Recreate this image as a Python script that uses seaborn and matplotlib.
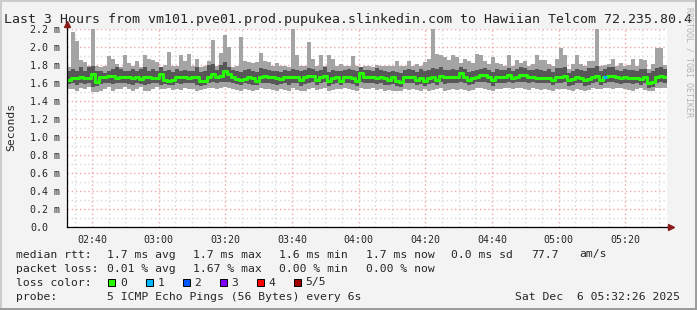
import numpy as np
import pandas as pd
import matplotlib
matplotlib.use("Agg")
import matplotlib.pyplot as plt
import seaborn as sns
from matplotlib.lines import Line2D
from matplotlib.patches import Rectangle

# ---------------- data (ms) ----------------
rtt_max = [1.78, 2.17, 2.07, 1.86, 1.84, 1.79, 2.30, 1.79, 1.78, 1.79, 1.90, 1.87, 1.82, 1.78, 1.91, 1.83, 1.79, 1.85, 1.78, 1.91, 1.87, 1.86, 1.84, 1.78, 1.80,
           1.95, 1.79, 1.79, 1.91, 1.85, 1.93, 1.79, 1.87, 1.78, 1.79, 1.85, 2.08, 1.79, 1.94, 2.14, 2.00, 1.78, 1.79, 2.12, 1.85, 1.84, 1.83, 1.84, 1.94, 1.85,
           1.84, 1.79, 1.83, 1.79, 1.79, 1.78, 2.30, 1.91, 1.79, 1.79, 2.06, 1.87, 1.79, 1.91, 1.79, 1.92, 1.87, 1.79, 1.81, 1.79, 1.79, 1.90, 1.79, 1.78, 1.79,
           1.79, 1.78, 1.80, 1.79, 1.79, 1.79, 1.79, 1.85, 1.79, 1.79, 1.85, 1.79, 1.82, 1.79, 1.84, 1.87, 2.30, 1.93, 1.92, 1.89, 1.86, 1.91, 1.89, 1.83, 1.87,
           1.85, 1.83, 1.93, 1.91, 1.85, 1.82, 1.89, 1.83, 1.82, 1.79, 1.91, 1.79, 1.86, 1.83, 1.85, 1.79, 1.81, 1.91, 1.86, 1.86, 1.82, 1.79, 1.87, 1.99, 1.91,
           1.76, 1.82, 1.91, 1.82, 1.79, 1.85, 1.85, 2.30, 1.79, 1.80, 1.82, 1.87, 1.79, 1.83, 1.79, 1.80, 1.87, 1.79, 1.87, 1.86, 1.76, 1.82, 1.99, 1.99, 1.80]

rtt_p4 = [1.74, 1.76, 1.74, 1.78, 1.74, 1.78, 1.79, 1.74, 1.74, 1.72, 1.74, 1.76, 1.78, 1.76, 1.74, 1.74, 1.76, 1.74, 1.76, 1.78, 1.74, 1.76, 1.74, 1.785, 1.74,
          1.75, 1.73, 1.76, 1.74, 1.75, 1.74, 1.74, 1.78, 1.73, 1.74, 1.80, 1.82, 1.75, 1.80, 1.84, 1.78, 1.75, 1.74, 1.73, 1.75, 1.76, 1.74, 1.73, 1.77, 1.76,
          1.75, 1.74, 1.74, 1.73, 1.75, 1.74, 1.76, 1.75, 1.74, 1.75, 1.77, 1.76, 1.74, 1.75, 1.78, 1.73, 1.75, 1.74, 1.74, 1.75, 1.76, 1.75, 1.74, 1.78, 1.75,
          1.75, 1.74, 1.77, 1.75, 1.74, 1.73, 1.74, 1.73, 1.72, 1.75, 1.76, 1.75, 1.73, 1.76, 1.74, 1.75, 1.77, 1.76, 1.78, 1.75, 1.75, 1.76, 1.75, 1.78, 1.76,
          1.73, 1.74, 1.75, 1.76, 1.77, 1.75, 1.73, 1.76, 1.75, 1.75, 1.77, 1.74, 1.76, 1.78, 1.77, 1.75, 1.75, 1.76, 1.75, 1.74, 1.76, 1.73, 1.77, 1.77, 1.78,
          1.72, 1.74, 1.76, 1.75, 1.74, 1.77, 1.77, 1.79, 1.74, 1.76, 1.78, 1.78, 1.75, 1.74, 1.76, 1.75, 1.75, 1.74, 1.76, 1.76, 1.72, 1.74, 1.77, 1.78, 1.76]

rtt_median = [1.635, 1.66, 1.66, 1.665, 1.655, 1.655, 1.70, 1.62, 1.665, 1.665, 1.68, 1.68, 1.655, 1.665, 1.665, 1.665, 1.655, 1.675, 1.645, 1.675, 1.675, 1.655, 1.655, 1.70, 1.635,
              1.63, 1.635, 1.67, 1.665, 1.67, 1.66, 1.67, 1.665, 1.63, 1.63, 1.67, 1.70, 1.665, 1.685, 1.74, 1.70, 1.665, 1.65, 1.635, 1.65, 1.665, 1.655, 1.63, 1.67, 1.685,
              1.67, 1.665, 1.66, 1.645, 1.665, 1.665, 1.67, 1.665, 1.635, 1.67, 1.68, 1.68, 1.635, 1.665, 1.68, 1.63, 1.66, 1.67, 1.63, 1.665, 1.67, 1.66, 1.63, 1.71, 1.665,
              1.67, 1.665, 1.66, 1.665, 1.655, 1.635, 1.665, 1.63, 1.61, 1.665, 1.67, 1.67, 1.635, 1.66, 1.625, 1.66, 1.67, 1.635, 1.685, 1.67, 1.67, 1.67, 1.67, 1.71, 1.665,
              1.635, 1.66, 1.67, 1.69, 1.69, 1.665, 1.635, 1.67, 1.67, 1.665, 1.69, 1.66, 1.67, 1.69, 1.69, 1.665, 1.67, 1.66, 1.66, 1.66, 1.66, 1.635, 1.67, 1.67, 1.685,
              1.635, 1.645, 1.67, 1.66, 1.635, 1.645, 1.67, 1.685, 1.635, 1.665, 1.68, 1.685, 1.665, 1.655, 1.67, 1.66, 1.66, 1.66, 1.645, 1.67, 1.60, 1.61, 1.665, 1.685, 1.67]

rtt_p2 = [1.59, 1.60, 1.58, 1.60, 1.59, 1.60, 1.56, 1.57, 1.59, 1.60, 1.60, 1.59, 1.60, 1.60, 1.60, 1.59, 1.58, 1.60, 1.59, 1.58, 1.59, 1.60, 1.60, 1.58, 1.59,
          1.58, 1.58, 1.60, 1.59, 1.60, 1.60, 1.60, 1.58, 1.57, 1.58, 1.60, 1.61, 1.60, 1.61, 1.62, 1.61, 1.60, 1.59, 1.58, 1.60, 1.59, 1.58, 1.58, 1.60, 1.60,
          1.60, 1.59, 1.58, 1.59, 1.60, 1.58, 1.60, 1.60, 1.57, 1.59, 1.60, 1.61, 1.58, 1.60, 1.61, 1.57, 1.59, 1.60, 1.58, 1.60, 1.60, 1.59, 1.57, 1.61, 1.60,
          1.60, 1.60, 1.59, 1.60, 1.58, 1.58, 1.59, 1.57, 1.56, 1.60, 1.60, 1.60, 1.58, 1.59, 1.57, 1.59, 1.60, 1.58, 1.61, 1.59, 1.60, 1.60, 1.60, 1.62, 1.60,
          1.58, 1.59, 1.61, 1.62, 1.61, 1.60, 1.57, 1.60, 1.60, 1.60, 1.62, 1.60, 1.61, 1.62, 1.62, 1.60, 1.61, 1.60, 1.60, 1.60, 1.60, 1.58, 1.60, 1.60, 1.61,
          1.57, 1.58, 1.60, 1.60, 1.57, 1.58, 1.60, 1.61, 1.58, 1.60, 1.61, 1.61, 1.60, 1.59, 1.60, 1.60, 1.59, 1.60, 1.58, 1.60, 1.55, 1.56, 1.60, 1.61, 1.60]

rtt_min = [1.54, 1.54, 1.52, 1.55, 1.54, 1.555, 1.50, 1.50, 1.52, 1.54, 1.555, 1.52, 1.54, 1.54, 1.555, 1.54, 1.52, 1.54, 1.555, 1.52, 1.52, 1.54, 1.555, 1.54, 1.54,
           1.55, 1.53, 1.54, 1.53, 1.55, 1.54, 1.54, 1.52, 1.53, 1.54, 1.55, 1.55, 1.54, 1.55, 1.56, 1.55, 1.54, 1.53, 1.52, 1.54, 1.53, 1.52, 1.53, 1.55, 1.54,
           1.54, 1.53, 1.52, 1.54, 1.53, 1.52, 1.55, 1.53, 1.51, 1.52, 1.54, 1.55, 1.53, 1.54, 1.55, 1.52, 1.53, 1.54, 1.54, 1.55, 1.54, 1.53, 1.52, 1.55, 1.54,
           1.54, 1.55, 1.53, 1.54, 1.52, 1.53, 1.52, 1.51, 1.51, 1.54, 1.53, 1.54, 1.53, 1.52, 1.54, 1.51, 1.53, 1.54, 1.55, 1.52, 1.53, 1.54, 1.53, 1.54, 1.53,
           1.52, 1.53, 1.55, 1.55, 1.54, 1.53, 1.52, 1.54, 1.54, 1.55, 1.55, 1.54, 1.55, 1.55, 1.54, 1.53, 1.55, 1.54, 1.53, 1.54, 1.53, 1.51, 1.54, 1.54, 1.54,
           1.53, 1.52, 1.54, 1.53, 1.52, 1.53, 1.55, 1.54, 1.54, 1.55, 1.55, 1.54, 1.55, 1.55, 1.54, 1.53, 1.52, 1.54, 1.55, 1.53, 1.51, 1.52, 1.55, 1.55, 1.55]

# lost pings per step (0 everywhere except one step with 1 lost)
loss = [0] * 134 + [1] + [0] * 15

start_minute = 152.5          # 02:32:30
step_minutes = 1.2            # 72 s consolidation step
x_tick_minutes = [160, 180, 200, 220, 240, 260, 280, 300, 320]
x_tick_labels = ["02:40", "03:00", "03:20", "03:40", "04:00", "04:20", "04:40", "05:00", "05:20"]
y_ticks = [0.0, 0.2, 0.4, 0.6, 0.8, 1.0, 1.2, 1.4, 1.6, 1.8, 2.0, 2.2]
y_tick_labels = ["0.0", "0.2 m", "0.4 m", "0.6 m", "0.8 m", "1.0 m", "1.2 m",
                 "1.4 m", "1.6 m", "1.8 m", "2.0 m", "2.2 m"]

loss_labels = ["0", "1", "2", "3", "4", "5/5"]
loss_colors = ["#26ff00", "#00b8ff", "#0059ff", "#7e00ff", "#ff0000", "#a10000"]

title = "Last 3 Hours from vm101.pve01.prod.pupukea.slinkedin.com to Hawiian Telcom 72.235.80.4"
stats_rtt = ["median rtt:", "1.7 ms avg", "1.7 ms max", "1.6 ms min", "1.7 ms now", "0.0 ms sd", "77.7", "am/s"]
stats_loss = ["packet loss:", "0.01 % avg", "1.67 % max", "0.00 % min", "0.00 % now"]
probe_text = ["probe:", "5 ICMP Echo Pings (56 Bytes) every 6s", "Sat Dec  6 05:32:26 2025"]

# ---------------- figure ----------------
sns.set_style("white")
MONO = ["DejaVu Sans Mono"]
plt.rcParams["font.family"] = MONO

W, H = 697, 310
fig = plt.figure(figsize=(W / 100, H / 100), dpi=100)
fig.patch.set_facecolor("#f3f3f3")

def fx(x):
    return x / W

def fy(y):
    return 1 - y / H

ax_l, ax_r, ax_t, ax_b = 67, 667, 29.3, 227.3
ax = fig.add_axes([fx(ax_l), fy(ax_b), (ax_r - ax_l) / W, (ax_b - ax_t) / H])
ax.set_facecolor("white")

n = len(rtt_median)
edges = start_minute + step_minutes * np.arange(n + 1)

def ext(a):
    a = list(a)
    return np.array(a + [a[-1]])

df = pd.DataFrame({"t": edges, "median": ext(rtt_median)})

ax.fill_between(edges, ext(rtt_min), ext(rtt_max), step="post",
                color="#a4a4a4", lw=0, zorder=1)
ax.fill_between(edges, ext(rtt_p2), ext(rtt_p4), step="post",
                color="#575757", lw=0, zorder=1.2)

sns.lineplot(data=df, x="t", y="median", drawstyle="steps-post",
             color=loss_colors[0], linewidth=2.2, sort=False,
             estimator=None, ax=ax, zorder=3)
for k, l in enumerate(loss):
    if l > 0:
        ax.hlines(rtt_median[k], edges[k], edges[k + 1],
                  color=loss_colors[l], lw=2.2, zorder=4)

ax.set_xlim(edges[0], edges[-1])
ax.set_ylim(0, 2.2)
ax.set_xlabel("")
ax.set_ylabel("")

# grid: majors every 20 min / 0.2, minors every 5 min / 0.1 (not on majors)
ax.set_xticks(x_tick_minutes)
ax.set_xticks([m for m in range(155, 335, 5) if m % 20 != 0], minor=True)
ax.set_yticks(y_ticks)
ax.set_yticks(np.arange(0.1, 2.2, 0.2), minor=True)
ax.grid(which="minor", color="#d9d9d9", linestyle=(0, (1, 2)), linewidth=1.0, snap=True)
ax.grid(which="major", color="#f2a6a6", linestyle=(0, (1, 2)), linewidth=1.0, snap=True)
ax.set_axisbelow(True)

ax.set_xticklabels(x_tick_labels, fontsize=7.2, family=MONO)
ax.set_yticklabels(y_tick_labels, fontsize=7.2, family=MONO)
for lab in ax.get_yticklabels():
    lab.set_horizontalalignment("left")
ax.tick_params(axis="y", which="both", length=0, pad=26.6)
ax.tick_params(axis="x", which="major", length=2, width=0.7, pad=3.2, color="black")
ax.tick_params(axis="x", which="minor", length=0)

for s in ["top", "right"]:
    ax.spines[s].set_visible(False)
for s in ["left", "bottom"]:
    ax.spines[s].set_color("black")
    ax.spines[s].set_linewidth(0.9)
    ax.spines[s].set_zorder(5)

# axis arrows
fig.add_artist(Line2D([fx(ax_l), fx(ax_l)], [fy(ax_t), fy(25)], color="black", lw=0.9))
fig.add_artist(Line2D([fx(ax_r), fx(670)], [fy(ax_b), fy(ax_b)], color="black", lw=0.9))
fig.add_artist(Line2D([fx(ax_l)], [fy(24)], marker="^", color="#8b1a1a", markersize=4.5, lw=0))
fig.add_artist(Line2D([fx(671)], [fy(ax_b)], marker=">", color="#8b1a1a", markersize=4.5, lw=0))

# labels
fig.text(fx(4), fy(23.5), title, fontsize=9.5, family=MONO, ha="left", va="baseline")
fig.text(fx(11), fy(127), "Seconds", fontsize=8.2, family=MONO, rotation=90,
         ha="center", va="center")
fig.text(fx(689), fy(62), "RRDTOOL / TOBI OETIKER", fontsize=6.0, family=MONO,
         rotation=270, ha="center", va="center", color="#b4b4b4")

lx1 = [16, 107, 193, 279, 366, 451, 531, 579]
for x, s in zip(lx1, stats_rtt):
    fig.text(fx(x), fy(257.5), s, fontsize=8.2, family=MONO, ha="left", va="baseline")
for x, s in zip(lx1, stats_loss):
    fig.text(fx(x), fy(271.5), s, fontsize=8.2, family=MONO, ha="left", va="baseline")

fig.text(fx(16), fy(285.5), "loss color:", fontsize=8.2, family=MONO, ha="left", va="baseline")
box_x = [108, 145.5, 182.5, 219.5, 256.5, 293.5]
for bx, lab, col in zip(box_x, loss_labels, loss_colors):
    fig.add_artist(Rectangle((fx(bx), fy(285.5)), 7 / W, 7 / H, transform=fig.transFigure,
                             facecolor=col, edgecolor="black", lw=0.7))
    fig.text(fx(bx + 12), fy(285.5), lab, fontsize=8.2, family=MONO, ha="left", va="baseline")

fig.text(fx(16), fy(299.5), probe_text[0], fontsize=8.2, family=MONO, ha="left", va="baseline")
fig.text(fx(107), fy(299.5), probe_text[1], fontsize=8.2, family=MONO, ha="left", va="baseline")
fig.text(fx(680), fy(299.5), probe_text[2], fontsize=8.2, family=MONO, ha="right", va="baseline")

# frame shading
fig.add_artist(Line2D([0, 1], [fy(0.5), fy(0.5)], color="#cbcbcb", lw=1.4))
fig.add_artist(Line2D([fx(0.5), fx(0.5)], [0, 1], color="#cbcbcb", lw=1.4))
fig.add_artist(Line2D([0, 1], [fy(309), fy(309)], color="#9a9a9a", lw=1.4))
fig.add_artist(Line2D([fx(696), fx(696)], [0, 1], color="#9a9a9a", lw=1.4))

fig.savefig("out.png", dpi=100, facecolor=fig.get_facecolor())
